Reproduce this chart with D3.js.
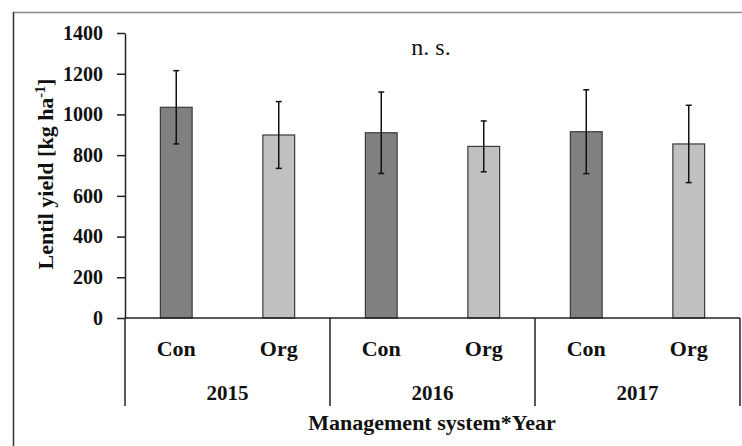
<!DOCTYPE html>
<html>
<head>
<meta charset="utf-8">
<script src="https://cdn.jsdelivr.net/npm/d3@7"></script>
<style>
  body { margin: 0; background: #fff; }
  svg, svg text { font-family: "Palatino Linotype", "Book Antiqua", "Liberation Serif", serif; }
</style>
</head>
<body>
<svg id="chart" width="742" height="446"></svg>
<script>
const width = 742;
const height = 446;

// data
const years = ["2015", "2016", "2017"];
const systems = ["Con", "Org"];
const yieldMean = [1035, 899, 910, 843, 915, 855];
const yieldSd = [180, 164, 200, 125, 206, 190];
const yTicks = [0, 200, 400, 600, 800, 1000, 1200, 1400];

const margin = { left: 125, right: 2, top: 33, bottom: 128 };

const svg = d3.select("#chart");

// outer frame (top and left edge only show in the crop)
svg.append("line").attr("x1", 13).attr("x2", width).attr("y1", 12.5).attr("y2", 12.5)
  .attr("stroke", "#8a8a8a").attr("stroke-width", 1.5);
svg.append("line").attr("x1", 13.5).attr("x2", 13.5).attr("y1", 12).attr("y2", height)
  .attr("stroke", "#333").attr("stroke-width", 1.5);

const cats = [];
years.forEach(y => systems.forEach(s => cats.push(y + "-" + s)));

const x = d3.scaleBand()
  .domain(cats)
  .range([margin.left, width - margin.right])
  .paddingInner(0.69)
  .paddingOuter(0.345);

const xYear = d3.scaleBand()
  .domain(years)
  .range([margin.left, width - margin.right]);

const y = d3.scaleLinear()
  .domain([0, 1400])
  .range([height - margin.bottom, margin.top]);

// y axis
const yAxis = svg.append("g")
  .attr("transform", `translate(${margin.left},0)`)
  .call(d3.axisLeft(y).tickValues(yTicks).tickFormat(d3.format("d"))
    .tickSize(8).tickPadding(14).tickSizeOuter(0));
yAxis.attr("font-family", null).attr("font-size", null);
yAxis.select(".domain").attr("stroke", "#222").attr("stroke-width", 1.5);
yAxis.selectAll(".tick line").attr("stroke", "#222").attr("stroke-width", 1.5);
yAxis.selectAll("text").attr("font-size", 20).attr("font-weight", "bold").attr("fill", "#111");

// bars
const data = cats.map((c, i) => ({ cat: c, sys: systems[i % 2], mean: yieldMean[i], sd: yieldSd[i] }));

svg.selectAll("rect.bar")
  .data(data)
  .enter()
  .append("rect")
  .attr("class", "bar")
  .attr("x", d => x(d.cat))
  .attr("width", x.bandwidth())
  .attr("y", d => y(d.mean))
  .attr("height", d => y(0) - y(d.mean))
  .attr("fill", d => d.sys === "Con" ? "#808080" : "#c0c0c0")
  .attr("stroke", "#3a3a3a")
  .attr("stroke-width", 1.2);

// error bars
const err = svg.selectAll("g.err").data(data).enter().append("g").attr("class", "err")
  .attr("stroke", "#111").attr("stroke-width", 1.5);
err.append("line")
  .attr("x1", d => x(d.cat) + x.bandwidth() / 2)
  .attr("x2", d => x(d.cat) + x.bandwidth() / 2)
  .attr("y1", d => y(d.mean + d.sd))
  .attr("y2", d => y(d.mean - d.sd));
[1, -1].forEach(sign => {
  err.append("line")
    .attr("x1", d => x(d.cat) + x.bandwidth() / 2 - 3)
    .attr("x2", d => x(d.cat) + x.bandwidth() / 2 + 3)
    .attr("y1", d => y(d.mean + sign * d.sd))
    .attr("y2", d => y(d.mean + sign * d.sd));
});

// category axis
const x0 = y(0);
svg.append("line").attr("x1", margin.left).attr("x2", width - margin.right)
  .attr("y1", x0).attr("y2", x0).attr("stroke", "#222").attr("stroke-width", 1.5);

const seps = years.map(yr => xYear(yr)).concat([width - margin.right]);
svg.selectAll("line.sep").data(seps).enter().append("line")
  .attr("class", "sep")
  .attr("x1", d => d).attr("x2", d => d)
  .attr("y1", x0).attr("y2", 406)
  .attr("stroke", "#222").attr("stroke-width", 1.5);

svg.selectAll("text.sys").data(data).enter().append("text")
  .attr("class", "sys")
  .attr("x", d => x(d.cat) + x.bandwidth() / 2)
  .attr("y", 356)
  .attr("text-anchor", "middle")
  .attr("font-size", 22).attr("font-weight", "bold").attr("fill", "#111")
  .text(d => d.sys);

svg.selectAll("text.year").data(years).enter().append("text")
  .attr("class", "year")
  .attr("x", d => xYear(d) + xYear.bandwidth() / 2)
  .attr("y", 400)
  .attr("text-anchor", "middle")
  .attr("font-size", 21).attr("font-weight", "bold").attr("fill", "#111")
  .text(d => d);

// axis titles
svg.append("text")
  .attr("x", 432).attr("y", 430)
  .attr("text-anchor", "middle")
  .attr("font-size", 22).attr("font-weight", "bold").attr("fill", "#111")
  .text("Management system*Year");

const yt = svg.append("text")
  .attr("transform", "translate(53,174) rotate(-90)")
  .attr("text-anchor", "middle")
  .attr("font-size", 22).attr("font-weight", "bold").attr("fill", "#111");
yt.append("tspan").text("Lentil yield [kg ha");
yt.append("tspan").attr("font-size", 14).attr("dy", -8).text("-1");
yt.append("tspan").attr("dy", 8).text("]");

// significance note
svg.append("text")
  .attr("x", 431).attr("y", 55)
  .attr("text-anchor", "middle")
  .attr("font-size", 24).attr("fill", "#111")
  .text("n. s.");
</script>
</body>
</html>
